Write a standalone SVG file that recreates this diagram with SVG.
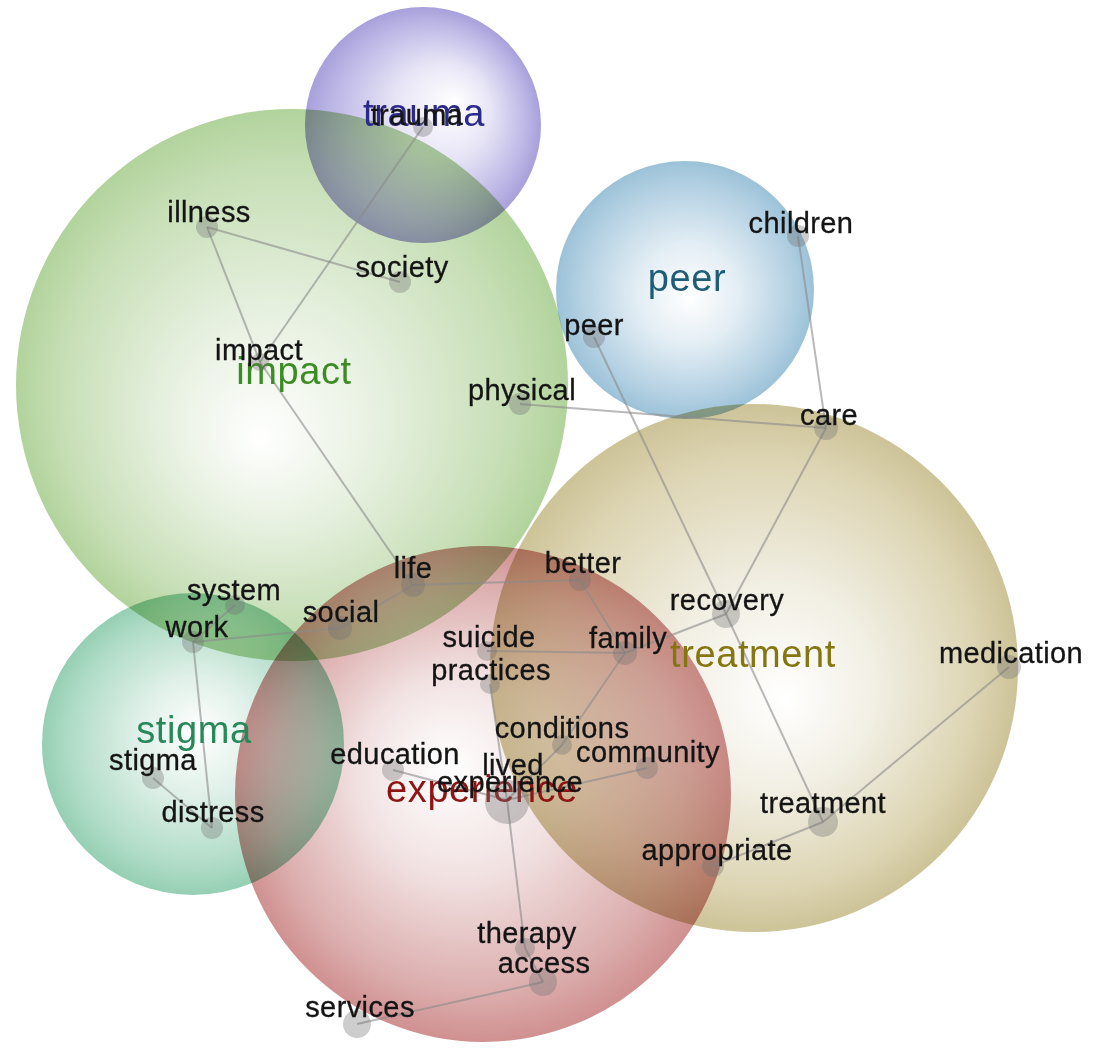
<svg xmlns="http://www.w3.org/2000/svg" width="1101" height="1055" viewBox="0 0 1101 1055">
<defs>
<radialGradient id="gTrauma" cx="50%" cy="50%" r="50%" fx="64%" fy="40%">
<stop offset="0" stop-color="#ffffff"/><stop offset="0.4" stop-color="#e8e6f6"/><stop offset="0.82" stop-color="#bdb7e6"/><stop offset="1" stop-color="#a8a0db"/>
</radialGradient>
<radialGradient id="gImpact" cx="50%" cy="50%" r="50%" fx="44%" fy="60%">
<stop offset="0" stop-color="#ffffff"/><stop offset="0.4" stop-color="#e6f0df"/><stop offset="0.82" stop-color="#c6deb5"/><stop offset="1" stop-color="#b2d39c"/>
</radialGradient>
<radialGradient id="gPeer" cx="50%" cy="50%" r="50%" fx="52%" fy="53%">
<stop offset="0" stop-color="#ffffff"/><stop offset="0.4" stop-color="#e2edf4"/><stop offset="0.82" stop-color="#b3d0e2"/><stop offset="1" stop-color="#9cc2d8"/>
</radialGradient>
<radialGradient id="gTreat" cx="50%" cy="50%" r="50%" fx="56%" fy="56%">
<stop offset="0" stop-color="#ffffff"/><stop offset="0.4" stop-color="#f1eee2"/><stop offset="0.82" stop-color="#dcd4b2"/><stop offset="1" stop-color="#cdc398"/>
</radialGradient>
<radialGradient id="gStigma" cx="50%" cy="50%" r="50%" fx="52%" fy="46%">
<stop offset="0" stop-color="#ffffff"/><stop offset="0.4" stop-color="#dff0e8"/><stop offset="0.82" stop-color="#b0dcc7"/><stop offset="1" stop-color="#95cfb3"/>
</radialGradient>
<radialGradient id="gExp" cx="50%" cy="50%" r="50%" fx="42%" fy="44%">
<stop offset="0" stop-color="#ffffff"/><stop offset="0.4" stop-color="#f2e2e2"/><stop offset="0.82" stop-color="#dcaeae"/><stop offset="1" stop-color="#d09090"/>
</radialGradient>
<style>
.theme{mix-blend-mode:multiply}
.conn line{stroke:#8a8a8a;stroke-width:2;stroke-opacity:0.6}
.dot{fill:#707070;fill-opacity:0.35}
.lbl{font-family:"Liberation Sans",Arial,sans-serif;font-size:29px;letter-spacing:0.4px;fill:#141414;stroke:#141414;stroke-width:0.3px;text-anchor:middle}
.tlbl{font-family:"Liberation Sans",Arial,sans-serif;font-size:38px;letter-spacing:0.6px;text-anchor:middle}
</style>
</defs>
<rect width="1101" height="1055" fill="#ffffff"/>
<g id="themes">
<g id="theme-impact"><circle class="theme" cx="292" cy="385" r="276" fill="url(#gImpact)"/></g>
<g id="theme-trauma"><circle class="theme" cx="423" cy="125" r="118" fill="url(#gTrauma)"/></g>
<g id="theme-peer"><circle class="theme" cx="685" cy="290" r="129" fill="url(#gPeer)"/></g>
<g id="theme-treatment"><circle class="theme" cx="754" cy="668" r="264" fill="url(#gTreat)"/></g>
<g id="theme-stigma"><circle class="theme" cx="193" cy="744" r="151" fill="url(#gStigma)"/></g>
<g id="theme-experience"><circle class="theme" cx="483" cy="794" r="248" fill="url(#gExp)"/></g>
</g>
<g id="connectors" class="conn">
<line x1="423" y1="127" x2="260" y2="362"/>
<line x1="207" y1="227" x2="260" y2="362"/>
<line x1="207" y1="227" x2="400" y2="282"/>
<line x1="260" y1="362" x2="413" y2="585"/>
<line x1="413" y1="585" x2="340" y2="628"/>
<line x1="340" y1="628" x2="193" y2="642"/>
<line x1="235" y1="605" x2="193" y2="642"/>
<line x1="193" y1="642" x2="212" y2="828"/>
<line x1="153" y1="778" x2="212" y2="828"/>
<line x1="413" y1="585" x2="580" y2="580"/>
<line x1="580" y1="580" x2="625" y2="653"/>
<line x1="487" y1="651" x2="625" y2="653"/>
<line x1="490" y1="684" x2="507" y2="800"/>
<line x1="625" y1="653" x2="562" y2="745"/>
<line x1="562" y1="745" x2="507" y2="800"/>
<line x1="625" y1="653" x2="726" y2="614"/>
<line x1="594" y1="337" x2="726" y2="614"/>
<line x1="726" y1="614" x2="826" y2="428"/>
<line x1="826" y1="428" x2="798" y2="236"/>
<line x1="520" y1="404" x2="826" y2="428"/>
<line x1="726" y1="614" x2="823" y2="822"/>
<line x1="823" y1="822" x2="1009" y2="667"/>
<line x1="823" y1="822" x2="713" y2="866"/>
<line x1="507" y1="800" x2="647" y2="768"/>
<line x1="507" y1="800" x2="393" y2="770"/>
<line x1="507" y1="800" x2="525" y2="948"/>
<line x1="525" y1="948" x2="543" y2="982"/>
<line x1="543" y1="982" x2="357" y2="1024"/>
</g>
<g id="theme-labels">
<text class="tlbl" x="424" y="126" fill="#2b2a8c">trauma</text>
<text class="tlbl" x="294" y="384" fill="#3b8c22">impact</text>
<text class="tlbl" x="687" y="291" fill="#1d5d78">peer</text>
<text class="tlbl" x="753" y="667" fill="#857610">treatment</text>
<text class="tlbl" x="194" y="743" fill="#27885a">stigma</text>
<text class="tlbl" x="482" y="802" fill="#8e1414">experience</text>
</g>
<g id="nodes">
<g id="n-trauma"><circle class="dot" cx="423" cy="127" r="10"/><text class="lbl" x="417" y="125">trauma</text></g>
<g id="n-illness"><circle class="dot" cx="207" cy="227" r="11"/><text class="lbl" x="209" y="222">illness</text></g>
<g id="n-society"><circle class="dot" cx="400" cy="282" r="11"/><text class="lbl" x="402" y="277">society</text></g>
<g id="n-impact"><circle class="dot" cx="260" cy="362" r="9"/><text class="lbl" x="259" y="360">impact</text></g>
<g id="n-physical"><circle class="dot" cx="520" cy="404" r="11"/><text class="lbl" x="522" y="400">physical</text></g>
<g id="n-peer"><circle class="dot" cx="594" cy="337" r="11"/><text class="lbl" x="594" y="335">peer</text></g>
<g id="n-children"><circle class="dot" cx="798" cy="236" r="11"/><text class="lbl" x="801" y="233">children</text></g>
<g id="n-care"><circle class="dot" cx="826" cy="428" r="12"/><text class="lbl" x="829" y="425">care</text></g>
<g id="n-better"><circle class="dot" cx="580" cy="580" r="11"/><text class="lbl" x="583" y="573">better</text></g>
<g id="n-recovery"><circle class="dot" cx="726" cy="614" r="14"/><text class="lbl" x="727" y="610">recovery</text></g>
<g id="n-family"><circle class="dot" cx="625" cy="653" r="12"/><text class="lbl" x="628" y="648">family</text></g>
<g id="n-medication"><circle class="dot" cx="1009" cy="667" r="12"/><text class="lbl" x="1011" y="663">medication</text></g>
<g id="n-treatment"><circle class="dot" cx="823" cy="822" r="15"/><text class="lbl" x="823" y="813">treatment</text></g>
<g id="n-appropriate"><circle class="dot" cx="713" cy="866" r="11"/><text class="lbl" x="717" y="860">appropriate</text></g>
<g id="n-community"><circle class="dot" cx="647" cy="768" r="11"/><text class="lbl" x="648" y="762">community</text></g>
<g id="n-conditions"><circle class="dot" cx="562" cy="745" r="10"/><text class="lbl" x="562" y="738">conditions</text></g>
<g id="n-lived-experience"><circle class="dot" cx="507" cy="802" r="22"/><text class="lbl" x="513" y="775">lived</text><text class="lbl" x="510" y="792">experience</text></g>
<g id="n-education"><circle class="dot" cx="393" cy="770" r="11"/><text class="lbl" x="395" y="764">education</text></g>
<g id="n-suicide"><circle class="dot" cx="487" cy="651" r="10"/><text class="lbl" x="489" y="647">suicide</text></g>
<g id="n-practices"><circle class="dot" cx="490" cy="684" r="10"/><text class="lbl" x="491" y="680">practices</text></g>
<g id="n-life"><circle class="dot" cx="413" cy="585" r="12"/><text class="lbl" x="413" y="578">life</text></g>
<g id="n-social"><circle class="dot" cx="340" cy="628" r="12"/><text class="lbl" x="341" y="622">social</text></g>
<g id="n-system"><circle class="dot" cx="235" cy="605" r="10"/><text class="lbl" x="234" y="600">system</text></g>
<g id="n-work"><circle class="dot" cx="193" cy="642" r="11"/><text class="lbl" x="197" y="637">work</text></g>
<g id="n-stigma"><circle class="dot" cx="153" cy="778" r="11"/><text class="lbl" x="153" y="770">stigma</text></g>
<g id="n-distress"><circle class="dot" cx="212" cy="828" r="11"/><text class="lbl" x="213" y="822">distress</text></g>
<g id="n-therapy"><circle class="dot" cx="525" cy="948" r="10"/><text class="lbl" x="527" y="943">therapy</text></g>
<g id="n-access"><circle class="dot" cx="543" cy="982" r="14"/><text class="lbl" x="544" y="973">access</text></g>
<g id="n-services"><circle class="dot" cx="357" cy="1024" r="14"/><text class="lbl" x="360" y="1017">services</text></g>
</g>
</svg>
